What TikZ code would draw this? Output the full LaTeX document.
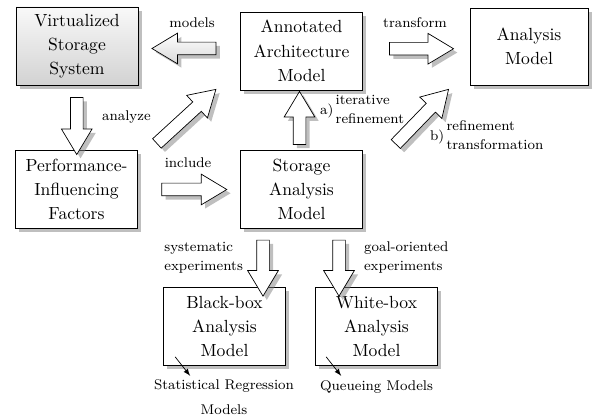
\documentclass[tikz,border=0pt]{standalone}
\usepackage{amssymb, amsmath}
\usepackage{tikz}
\usetikzlibrary{calc, shapes.arrows, shadows}

\begin{document}
\begin{tikzpicture}
    \tikzstyle{model box}=[draw, fill=white, drop shadow, align=center, minimum width=2.44cm, minimum height=1.56cm, font=\linespread{1.15}\selectfont]
    \tikzstyle{block arrow}=[single arrow, draw, fill=white, drop shadow, inner sep=.12cm, single arrow head extend=.18cm, single arrow tip angle=62]
    \tikzstyle{arrow label}=[font=\footnotesize\linespread{1.15}\selectfont, inner sep=1pt]

    \useasboundingbox (0,0) rectangle (11.92,8.32);

    % models
    \node(vss)[model box, top color=gray!5, bottom color=gray!35] at (1.54,7.40) {Virtualized\\Storage\\System};
    \node(aam)[model box] at (6.03,7.30) {Annotated\\Architecture\\Model};
    \node(am)[model box, minimum width=2.36cm, minimum height=1.54cm] at (10.58,7.39) {Analysis\\Model};
    \node(pif)[model box] at (1.53,4.53) {Performance-\\Influencing\\Factors};
    \node(sam)[model box] at (6.03,4.53) {Storage\\Analysis\\Model};
    \node(bb)[model box] at (4.49,1.79) {Black-box\\Analysis\\Model};
    \node(wb)[model box] at (7.53,1.79) {White-box\\Analysis\\Model};

    % block arrows
    \node(models)[block arrow, minimum height=1.28cm, shape border rotate=180, top color=white, bottom color=gray!30] at ($(vss.east)!.5!(aam.west)$) {};
    \node(transform)[block arrow, minimum height=1.28cm] at ($(aam.east)!.5!(am.west)$) {};
    \node(analyze)[block arrow, minimum height=1.14cm, shape border rotate=270] at ($(vss.south)!.5!(pif.north)+(0,-.06)$) {};
    \node(include)[block arrow, minimum height=1.30cm] at ($(pif.east)!.5!(sam.west)$) {};
    \node(iterative)[block arrow, minimum height=1.06cm, shape border rotate=90] at ($(sam.north)!.5!(aam.south)+(-.04,-.06)$) {};
    \node(pif to aam)[block arrow, minimum height=1.60cm, rotate=42.5] at (3.65,5.92) {};
    \node(refine)[block arrow, minimum height=1.52cm, rotate=46] at (8.37,5.91) {};
    \node(systematic)[block arrow, minimum height=1.12cm, shape border rotate=270] at ($(sam.south)+(-.77,-.68)$) {};
    \node(goal)[block arrow, minimum height=1.12cm, shape border rotate=270] at ($(sam.south)+(.75,-.68)$) {};

    % arrow labels
    \node(lmodels)[arrow label] at (3.84,7.86) {models};
    \node(ltransform)[arrow label] at (8.30,7.86) {transform};
    \node(lanalyze)[arrow label, anchor=west] at (2.00,5.98) {analyze};
    \node(linclude)[arrow label] at (3.76,5.06) {include};
    \node(literative)[arrow label, anchor=west] at (6.36,6.11) {a)\begin{tabular}{@{\,}l@{}}iterative\\refinement\end{tabular}};
    \node(lrefine)[arrow label, anchor=west] at (8.56,5.59) {b)\begin{tabular}{@{\,}l@{}}refinement\\transformation\end{tabular}};
    \node(lsystematic)[arrow label, anchor=east, align=left] at (4.90,3.17) {systematic\\experiments};
    \node(lgoal)[arrow label, anchor=west, align=left] at (7.24,3.17) {goal-oriented\\experiments};

    % analysis techniques
    \node(stat)[arrow label, align=center] at (4.48,0.38) {Statistical Regression\\[3pt]Models};
    \node(queue)[arrow label] at (7.53,0.58) {Queueing Models};
    \coordinate(bb from) at ($(bb.south west)+(.24,.18)$);
    \coordinate(bb to) at ($(bb.south west)+(.54,-.2)$);
    \coordinate(wb from) at ($(wb.south west)+(.22,.18)$);
    \coordinate(wb to) at ($(wb.south west)+(.52,-.2)$);
    \draw[-latex] (bb from) -- (bb to);
    \draw[-latex] (wb from) -- (wb to);
\end{tikzpicture}
\end{document}
